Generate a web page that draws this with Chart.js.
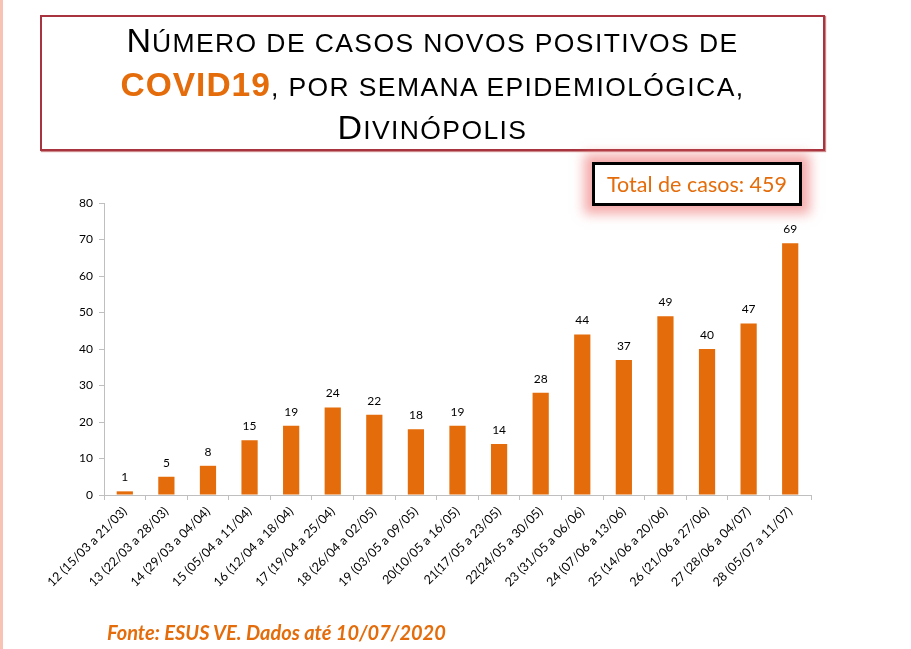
<!DOCTYPE html>
<html>
<head>
<meta charset="utf-8">
<script src="https://cdn.jsdelivr.net/npm/chart.js@4"></script>
<style>
  html, body { margin: 0; padding: 0; background: #fff; }
  #page { position: relative; width: 911px; height: 649px; overflow: hidden; }
  #strip { position: absolute; left: 0; top: 0; width: 3px; height: 649px; background: #f7c3b3; }
  #titleBox {
    position: absolute; left: 40px; top: 15px; width: 781px; height: 130px;
    border: 2.5px solid #a8343f; box-shadow: 1px 1px 1px #c88;
    font-family: "Liberation Sans", Arial, sans-serif; font-size: 26.5px;
    text-transform: uppercase; text-align: center; color: #000;
    letter-spacing: 1.4px; padding-top: 2px;
  }
  #titleBox .line { height: 43.5px; line-height: 43.5px; white-space: nowrap; }
  #titleBox .cap { font-size: 34px; line-height: 43.5px; letter-spacing: 1px; }
  #titleBox .covid { font-size: 33.5px; line-height: 43.5px; font-weight: bold; color: #e46c0a; letter-spacing: 1px; }
  #totalBox {
    position: absolute; left: 592px; top: 162px; width: 204px; height: 38px;
    border: 3px solid #000; background: #fff;
    box-shadow: 0 0 11px 8px rgba(238, 115, 115, 0.6);
    font-family: Lato, "Open Sans", sans-serif; font-size: 21.5px; color: #e46c0a;
    text-align: center; line-height: 38px;
  }
  #fonte {
    position: absolute; left: 107px; top: 620px;
    font-family: Lato, "Open Sans", sans-serif; font-size: 20px; font-weight: bold;
    font-style: italic; color: #e46c0a;
  }
  #chartWrap { position: absolute; left: 0; top: 0; width: 911px; height: 649px; }
</style>
</head>
<body>
<div id="page">
  <div id="strip"></div>
  <div id="chartWrap"><canvas id="my-chart"></canvas></div>
  <div id="titleBox">
    <div class="line"><span class="cap">N</span>úmero de casos novos positivos de</div>
    <div class="line"><span class="covid">COVID19</span>, por semana epidemiológica,</div>
    <div class="line"><span class="cap">D</span>ivinópolis</div>
  </div>
  <div id="totalBox">Total de casos: 459</div>
  <div id="fonte">Fonte: ESUS VE. Dados até 10/07/2020</div>
</div>
<script>
const weeks = [
  '12 (15/03 a 21/03)', '13 (22/03 a 28/03)', '14 (29/03 a 04/04)', '15 (05/04 a 11/04)',
  '16 (12/04 a 18/04)', '17 (19/04 a 25/04)', '18 (26/04 a 02/05)', '19 (03/05 a 09/05)',
  '20(10/05 a 16/05)', '21(17/05 a 23/05)', '22(24/05 a 30/05)', '23 (31/05 a 06/06)',
  '24 (07/06 a 13/06)', '25 (14/06 a 20/06)', '26 (21/06 a 27/06)', '27 (28/06 a 04/07)',
  '28 (05/07 a 11/07)'
];
const newCases = [1, 5, 8, 15, 19, 24, 22, 18, 19, 14, 28, 44, 37, 49, 40, 47, 69];
const yTicks = [0, 10, 20, 30, 40, 50, 60, 70, 80];

// values above each bar
const barLabels = {
  id: 'barLabels',
  afterDatasetsDraw(chart) {
    const ctx = chart.ctx;
    const meta = chart.getDatasetMeta(0);
    ctx.save();
    ctx.font = '12px Lato, "Open Sans", sans-serif';
    ctx.fillStyle = '#000';
    ctx.textAlign = 'center';
    ctx.textBaseline = 'middle';
    meta.data.forEach((bar, i) => {
      ctx.fillText(newCases[i], bar.x, bar.y - 14);
    });
    ctx.restore();
  }
};

const ctx = document.getElementById('my-chart').getContext('2d');
const chart = new Chart(ctx, {
  type: 'bar',
  data: {
    labels: weeks,
    datasets: [{
      data: newCases,
      backgroundColor: '#e46c0a',
      borderWidth: 0,
      barPercentage: 0.39,
      categoryPercentage: 1
    }]
  },
  options: {
    responsive: true,
    maintainAspectRatio: false,
    animation: false,
    layout: { padding: { top: 203, left: 0, right: 100, bottom: 44 } },
    plugins: { legend: { display: false }, tooltip: { enabled: false } },
    scales: {
      x: {
        grid: { display: true, offset: true, drawOnChartArea: false, drawTicks: true, tickLength: 5, color: '#bfbfbf' },
        border: { color: '#bfbfbf', width: 1 },
        ticks: {
          minRotation: 45, maxRotation: 45, autoSkip: false, padding: 4,
          color: '#000', font: { family: 'Lato, "Open Sans", sans-serif', size: 12.5 }
        },
        afterFit(scale) { scale.height = 110; }
      },
      y: {
        min: 0, max: 80,
        afterBuildTicks(scale) { scale.ticks = yTicks.map(v => ({ value: v })); },
        grid: { display: true, drawOnChartArea: false, drawTicks: true, tickLength: 5, color: '#bfbfbf' },
        border: { color: '#bfbfbf', width: 1 },
        ticks: {
          padding: 6, color: '#000',
          font: { family: 'Lato, "Open Sans", sans-serif', size: 12 }
        },
        afterFit(scale) { scale.width = 104; }
      }
    }
  },
  plugins: [barLabels]
});
</script>
</body>
</html>
